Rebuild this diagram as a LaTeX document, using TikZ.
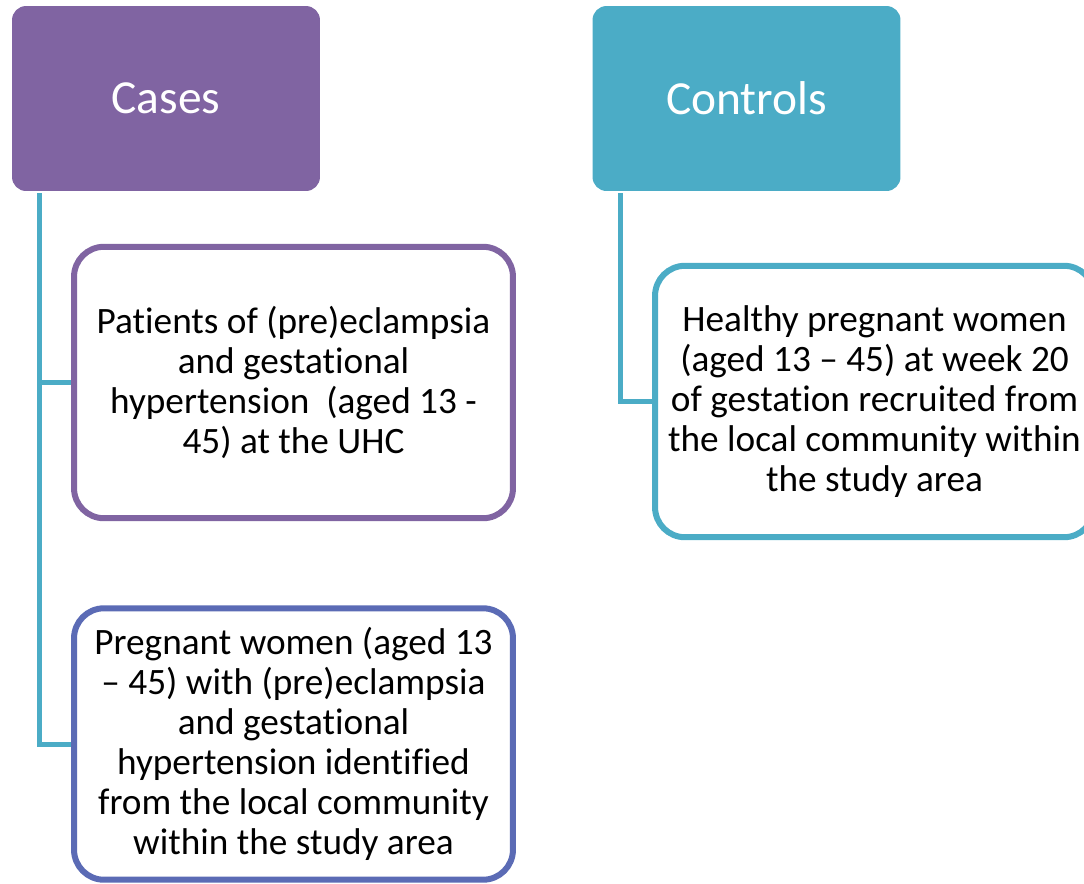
\documentclass[tikz,border=0pt]{standalone}
\usepackage{fontspec}
\setmainfont{Carlito}[Ligatures={NoCommon,NoContextual}]
\usetikzlibrary{positioning}
\definecolor{casepurple}{RGB}{128,100,162}
\definecolor{ctrlblue}{RGB}{75,172,198}
\definecolor{caseblue}{RGB}{91,107,181}

\begin{document}
\begin{tikzpicture}[x=0.02cm,y=-0.02cm,
	every node/.style={align=center,inner sep=0pt},
	head/.style={rounded corners=0.28cm,minimum width=6.16cm,minimum height=3.7cm,
		text=white,font=\fontsize{27}{32}\selectfont},
	item/.style={draw,fill=white,line width=0.12cm,rounded corners=0.6cm,
		minimum width=8.78cm,minimum height=5.43cm,font=\fontsize{21.2}{22.8}\selectfont},
	link/.style={ctrlblue,line width=0.1cm}
]
	\useasboundingbox (0,0) rectangle (1084,883);

	% top level
	\node[head,fill=casepurple] at (166,98.5) (cases) {Cases};
	\node[head,fill=ctrlblue] at (746.5,98.5) (controls) {Controls};

	% cases
	\node[item,draw=casepurple] at (293.5,382.5) (case1)
	  {Patients of (pre)eclampsia\\ and gestational\\ hypertension~ (aged 13 -\\ 45) at the UHC};
	\node[item,draw=caseblue] at (293.5,744) (case2)
	  {Pregnant women (aged 13\\ – 45) with (pre)eclampsia\\ and gestational\\ hypertension identified\\ from the local community\\ within the study area};

	% controls
	\node[item,draw=ctrlblue] at (874.5,401.5) (control1)
	  {Healthy pregnant women\\ (aged 13 – 45) at week 20\\ of gestation recruited from\\ the local community within\\ the study area};

	% connectors
	\draw[link] ([xshift=0.56cm,yshift=-0.04cm]cases.south west) |- (case1.west);
	\draw[link] ([xshift=0.56cm,yshift=-0.04cm]cases.south west) |- (case2.west);
	\draw[link] ([xshift=0.56cm,yshift=-0.04cm]controls.south west) |- (control1.west);
\end{tikzpicture}
\end{document}
